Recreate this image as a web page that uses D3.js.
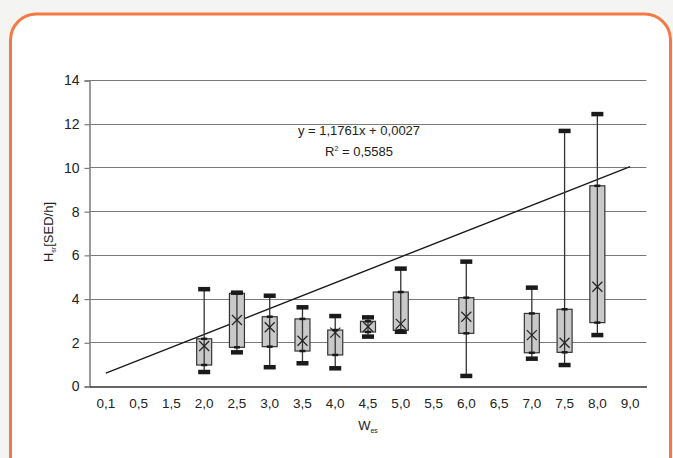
<!DOCTYPE html>
<html>
<head>
<meta charset="utf-8">
<script src="https://cdn.jsdelivr.net/npm/d3@7"></script>
<style>
  html, body { margin: 0; padding: 0; background: #f4f4f3; }
  svg { display: block; }
  text { font-family: "Liberation Sans", Arial, sans-serif; fill: #222; }
</style>
</head>
<body>
<svg id="chart" width="673" height="458"></svg>
<script>
// ---- data ----
const categories = ["0,1","0,5","1,5","2,0","2,5","3,0","3,5","4,0","4,5","5,0","5,5","6,0","6,5","7,0","7,5","8,0","9,0"];
const boxCategories = ["2,0","2,5","3,0","3,5","4,0","4,5","5,0","6,0","7,0","7,5","8,0"];
const minValues    = [0.64, 1.54, 0.86, 1.04, 0.81, 2.26, 2.48, 0.46, 1.25, 0.96, 2.33];
const q1Values     = [0.96, 1.77, 1.80, 1.60, 1.42, 2.47, 2.55, 2.41, 1.52, 1.54, 2.90];
const q3Values     = [2.16, 4.24, 3.17, 3.07, 2.56, 2.96, 4.30, 4.04, 3.32, 3.51, 9.16];
const maxValues    = [4.43, 4.27, 4.13, 3.60, 3.20, 3.14, 5.37, 5.69, 4.50, 11.67, 12.44];
const medianValues = [1.83, 3.02, 2.69, 2.07, 2.44, 2.71, 2.84, 3.17, 2.33, 1.98, 4.54];
const trendCategories = ["0,1", "9,0"];
const trendValues = [0.59, 10.04];
const yTicks = [0, 2, 4, 6, 8, 10, 12, 14];
const equationLines = ["y = 1,1761x + 0,0027", "R² = 0,5585"];

// ---- layout ----
const svg = d3.select("#chart");
const plot = { left: 89.5, right: 646.5, top: 80, bottom: 386 };

// frame
svg.append("rect")
  .attr("x", 10.5).attr("y", 14).attr("width", 660).attr("height", 470)
  .attr("rx", 26).attr("ry", 26)
  .attr("fill", "#ffffff").attr("stroke", "#f47a45").attr("stroke-width", 3);

const x = d3.scaleBand().domain(categories).range([plot.left, plot.right]);
const y = d3.scaleLinear().domain([0, 14]).range([plot.bottom, plot.top]);

// grid
svg.append("g").selectAll("line")
  .data(yTicks.filter(d => d > 0))
  .join("line")
  .attr("x1", plot.left).attr("x2", plot.right)
  .attr("y1", d => Math.round(y(d)) + 0.5).attr("y2", d => Math.round(y(d)) + 0.5)
  .attr("stroke", "#7a7a7a").attr("stroke-width", 1.2);

// y axis
const yAxis = d3.axisLeft(y).tickValues(yTicks).tickSize(5).tickPadding(5).tickFormat(d3.format("d"));
const gy = svg.append("g").attr("transform", `translate(${plot.left},0.5)`).call(yAxis);
gy.select(".domain").attr("stroke", "#7a7a7a").attr("stroke-width", 1.5);
gy.selectAll(".tick line").attr("stroke", "#7a7a7a").attr("stroke-width", 1.2);
gy.selectAll(".tick text").attr("font-size", 14).attr("fill", "#222")
  .style("font-family", "'Liberation Sans', Arial, sans-serif");

// x axis
const xAxis = d3.axisBottom(x).tickSize(0).tickPadding(12);
const gx = svg.append("g").attr("transform", `translate(0,${plot.bottom + 0.5})`).call(xAxis);
gx.select(".domain").attr("stroke", "#333").attr("stroke-width", 1.5);
gx.selectAll(".tick text").attr("font-size", 13.5).attr("fill", "#222")
  .style("font-family", "'Liberation Sans', Arial, sans-serif");

// trend line
svg.append("line")
  .attr("x1", x(trendCategories[0]) + x.bandwidth() / 2)
  .attr("y1", y(trendValues[0]))
  .attr("x2", x(trendCategories[1]) + x.bandwidth() / 2)
  .attr("y2", y(trendValues[1]))
  .attr("stroke", "#1a1a1a").attr("stroke-width", 1.4);

// boxes
const boxes = boxCategories.map((c, i) => ({
  c, min: minValues[i], q1: q1Values[i], q3: q3Values[i], max: maxValues[i], med: medianValues[i]
}));
const bw = 15, capW = 12, capH = 4.5, markW = 6, xs = 5;
const g = svg.append("g").selectAll("g").data(boxes).join("g")
  .attr("transform", d => `translate(${x(d.c) + x.bandwidth() / 2},0)`);

g.append("rect")
  .attr("x", -bw / 2).attr("width", bw)
  .attr("y", d => y(d.q3)).attr("height", d => y(d.q1) - y(d.q3))
  .attr("fill", "#c9c9c9").attr("stroke", "#333").attr("stroke-width", 1.2);
g.append("line")
  .attr("x1", 0).attr("x2", 0)
  .attr("y1", d => y(d.max)).attr("y2", d => y(d.min))
  .attr("stroke", "#333").attr("stroke-width", 1.3);
g.append("rect")
  .attr("x", -capW / 2).attr("width", capW).attr("height", capH)
  .attr("y", d => y(d.max) - capH / 2).attr("fill", "#1a1a1a");
g.append("rect")
  .attr("x", -capW / 2).attr("width", capW).attr("height", capH)
  .attr("y", d => y(d.min) - capH / 2).attr("fill", "#1a1a1a");
g.append("rect")
  .attr("x", -markW / 2).attr("width", markW).attr("height", 2.5)
  .attr("y", d => y(d.q3) - 1.25).attr("fill", "#1a1a1a");
g.append("rect")
  .attr("x", -markW / 2).attr("width", markW).attr("height", 2.5)
  .attr("y", d => y(d.q1) - 1.25).attr("fill", "#1a1a1a");
g.append("path")
  .attr("d", d => {
    const cy = y(d.med);
    return `M${-xs},${cy - xs}L${xs},${cy + xs}M${-xs},${cy + xs}L${xs},${cy - xs}`;
  })
  .attr("stroke", "#222").attr("stroke-width", 1.2).attr("fill", "none");

// equation
const eqX = 359;
svg.append("text").attr("x", eqX).attr("y", 135).attr("text-anchor", "middle")
  .attr("font-size", 13).text(equationLines[0]);
const r2 = svg.append("text").attr("x", eqX).attr("y", 156).attr("text-anchor", "middle")
  .attr("font-size", 13);
r2.append("tspan").text("R");
r2.append("tspan").attr("dy", -5).attr("font-size", 7).text("2");
r2.append("tspan").attr("dy", 5).text(" = 0,5585");

// axis titles
const xt = svg.append("text").attr("x", 368).attr("y", 430).attr("text-anchor", "middle").attr("font-size", 13);
xt.append("tspan").text("W");
xt.append("tspan").attr("dy", 3).attr("font-size", 7).text("es");

const yt = svg.append("text").attr("transform", "translate(53,232) rotate(-90)")
  .attr("text-anchor", "middle").attr("font-size", 13);
yt.append("tspan").text("H");
yt.append("tspan").attr("dy", 3).attr("font-size", 7).text("sr");
yt.append("tspan").attr("dy", -3).text("[SED/h]");
</script>
</body>
</html>
